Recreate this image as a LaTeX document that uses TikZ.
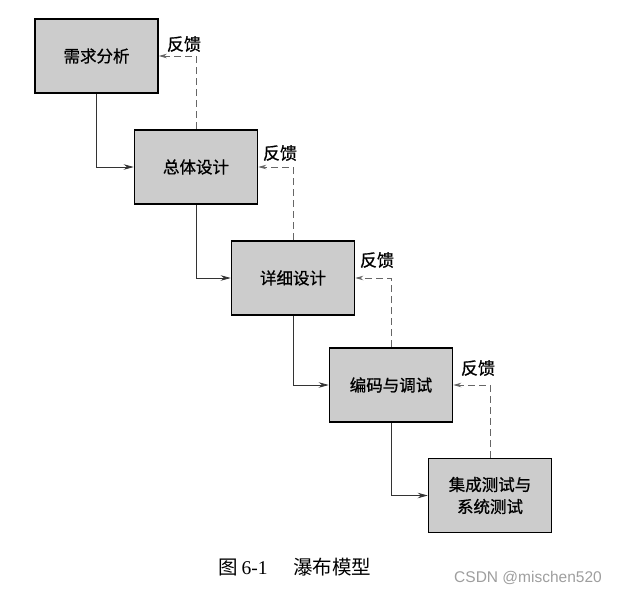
\documentclass[tikz,border=0pt]{standalone}
\usepackage{fontspec}
\setmainfont{Liberation Serif}
\setsansfont{Liberation Sans}
\newfontfamily\cjk[FakeBold=0.9]{Noto Sans CJK SC}
\newfontfamily\cjkcap{Noto Sans CJK SC}
\usetikzlibrary{arrows.meta,positioning}
\definecolor{boxgray}{gray}{0.80}
\definecolor{markgray}{gray}{0.62}

\begin{document}
\begin{tikzpicture}[x=1pt,y=-1pt,
    stage/.style={draw=black,line width=1.6pt,fill=boxgray,minimum width=123pt,minimum height=74pt,
      inner sep=2pt,align=center,font=\cjk\fontsize{16.5}{22}\selectfont},
    flow/.style={draw=black!80,line width=0.8pt,-{Stealth[length=10pt,width=5.5pt]}},
    back/.style={draw=black!60,line width=0.8pt,dash pattern=on 7pt off 4pt,-{Stealth[length=8pt,width=4.5pt]}},
    tag/.style={font=\cjk\fontsize{17}{20}\selectfont}]
        \useasboundingbox (0,0) rectangle (617,592);
        % stages
        \node[stage] (xuqiu) at (96.5,56) {需求分析};
        \node[stage] (zongti) at (196,167) {总体设计};
        \node[stage] (xiangxi) at (293,278) {详细设计};
        \node[stage] (bianma) at (391,385) {编码与调试};
        \node[stage] (ceshi) at (490,495.5) {集成测试与\\系统测试};
        % forward flow
        \draw[flow] (xuqiu.south) |- (zongti.west);
        \draw[flow] (zongti.south) |- (xiangxi.west);
        \draw[flow] (xiangxi.south) |- (bianma.west);
        \draw[flow] (bianma.south) |- (ceshi.west);
        % feedback
        \draw[back] (zongti.north) |- (xuqiu.east);
        \draw[back] (xiangxi.north) |- (zongti.east);
        \draw[back] (bianma.north) |- (xiangxi.east);
        \draw[back] (ceshi.north) |- (bianma.east);
        \node[tag] (fk1) at (184,44) {反馈};
        \node[tag] (fk2) at (280,153) {反馈};
        \node[tag] (fk3) at (377,260) {反馈};
        \node[tag] (fk4) at (478,368) {反馈};
        % caption
        \node[font=\fontsize{19.5}{24}\selectfont] (caption) at (295,567) {{\cjkcap 图}\,6-1\hspace{1.3em}{\cjkcap 瀑布模型}};
        \node[font=\sffamily\fontsize{15.5}{18}\selectfont,text=markgray] (mark) at (528,578) {CSDN @mischen520};
\end{tikzpicture}
\end{document}
